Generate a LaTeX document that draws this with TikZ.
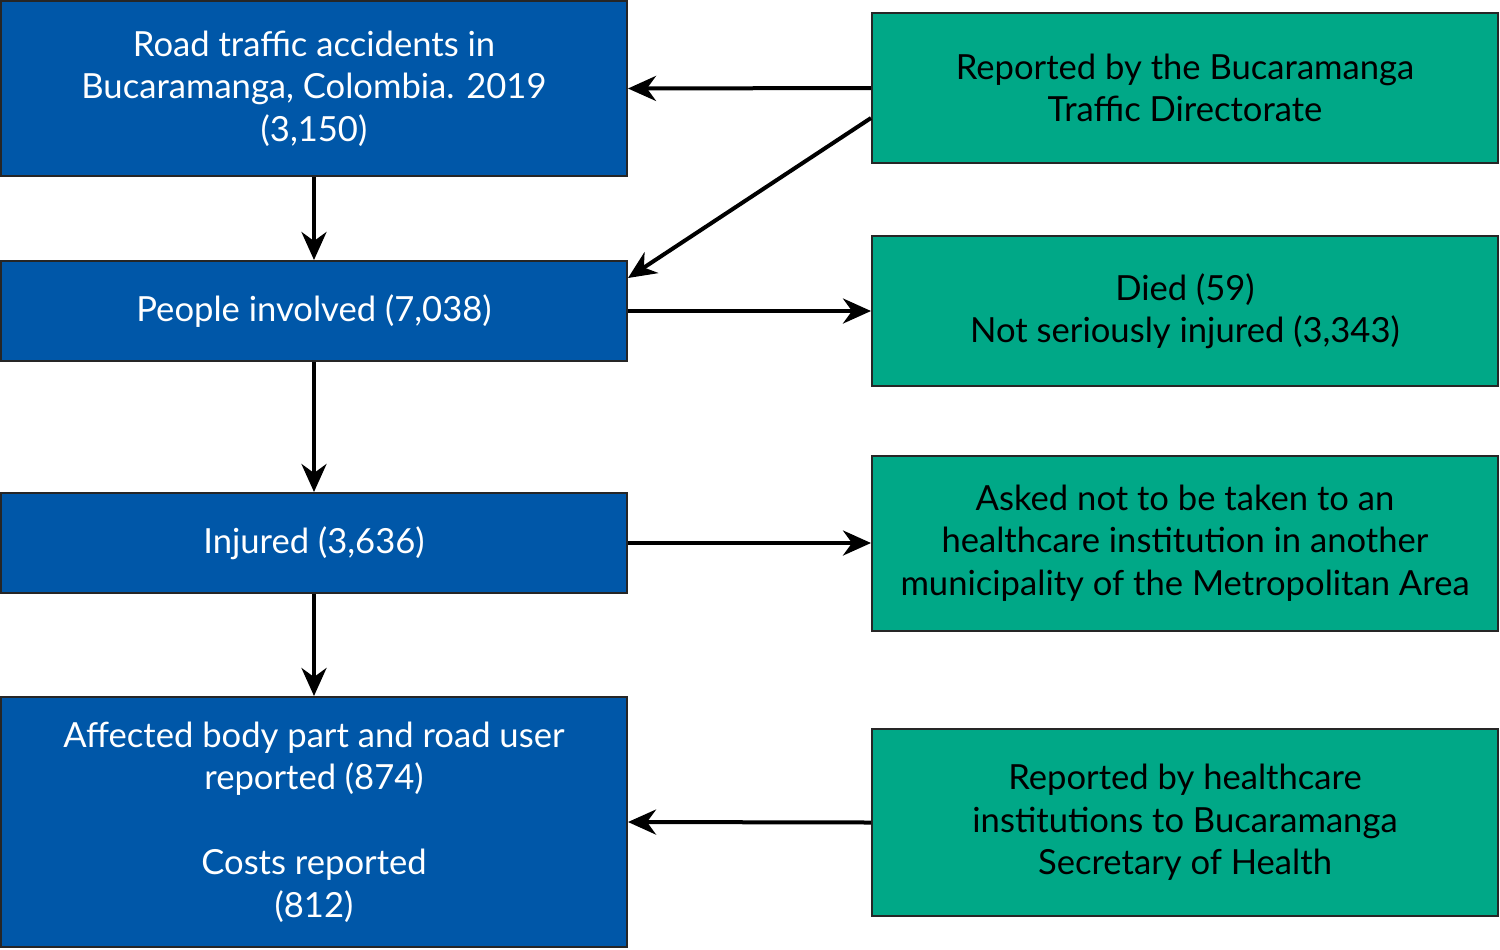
\documentclass[tikz,border=0pt]{standalone}
\usepackage{fontspec}
\setmainfont{Lato}
\usetikzlibrary{arrows.meta}
\definecolor{boxblue}{HTML}{0057A8}
\definecolor{boxgreen}{HTML}{00A887}
\tikzset{
  bluebox/.style={draw=black!85, line width=1pt, fill=boxblue, text=white, minimum width=313pt, align=center, inner sep=0pt, font=\fontsize{17.3}{21.25}\selectfont},
  greenbox/.style={draw=black!85, line width=1pt, fill=boxgreen, text=black, minimum width=313pt, align=center, inner sep=0pt, font=\fontsize{17.3}{21.25}\selectfont},
  arr/.style={line width=2pt, -{Stealth[length=14pt,width=12.5pt,inset=4.5pt]}}
}
\begin{document}
\begin{tikzpicture}[x=0.5pt,y=-0.5pt]
\useasboundingbox (0,0) rectangle (1500,949);
\node[bluebox, minimum height=87.5pt] (b1) at (314,88.5) {Road traffic accidents in\\Bucaramanga, Colombia. 2019\\(3,150)};
\node[bluebox, minimum height=50pt] (b2) at (314,311) {People involved (7,038)};
\node[bluebox, minimum height=50pt] (b3) at (314,543) {Injured (3,636)};
\node[bluebox, minimum height=125pt] (b4) at (314,822) {Affected body part and road user\\reported (874)\\[21.25pt]Costs reported\\(812)};
\node[greenbox, minimum height=75pt] (g1) at (1185,88) {Reported by the Bucaramanga\\Traffic Directorate};
\node[greenbox, minimum height=75pt] (g2) at (1185,311) {Died (59)\\Not seriously injured (3,343)};
\node[greenbox, minimum height=87.5pt] (g3) at (1185,543) {Asked not to be taken to an\\healthcare institution in another\\municipality of the Metropolitan Area};
\node[greenbox, minimum height=93.5pt] (g4) at (1185,822.5) {Reported by healthcare\\institutions to Bucaramanga\\Secretary of Health};
\draw[arr] (g1.west) -- (b1.east);
\draw[arr] ([yshift=-15pt]g1.west) -- ([yshift=16.5pt]b2.east);
\draw[arr] (b1.south) -- (b2.north);
\draw[arr] (b2.south) -- (b3.north);
\draw[arr] (b3.south) -- (b4.north);
\draw[arr] (b2.east) -- (g2.west);
\draw[arr] (b3.east) -- (g3.west);
\draw[arr] (g4.west) -- (b4.east);
\end{tikzpicture}
\end{document}
